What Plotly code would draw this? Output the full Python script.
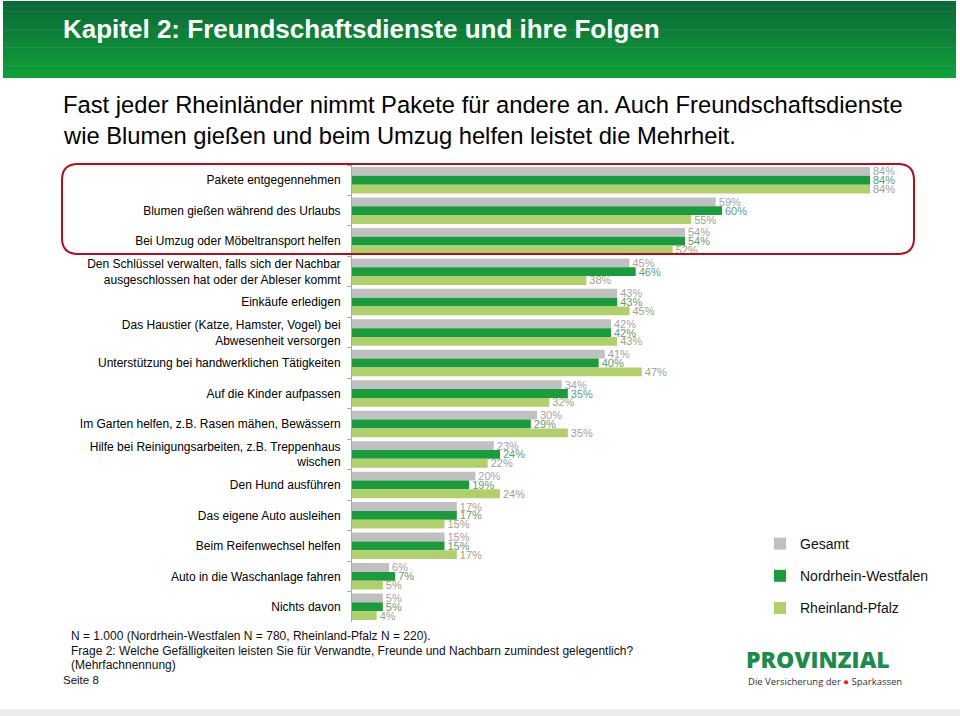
import plotly.graph_objects as go

categories = [
    "Pakete entgegennehmen",
    "Blumen gießen während des Urlaubs",
    "Bei Umzug oder Möbeltransport helfen",
    "Den Schlüssel verwalten, falls sich der Nachbar<br>ausgeschlossen hat oder der Ableser kommt",
    "Einkäufe erledigen",
    "Das Haustier (Katze, Hamster, Vogel) bei<br>Abwesenheit versorgen",
    "Unterstützung bei handwerklichen Tätigkeiten",
    "Auf die Kinder aufpassen",
    "Im Garten helfen, z.B. Rasen mähen, Bewässern",
    "Hilfe bei Reinigungsarbeiten, z.B. Treppenhaus<br>wischen",
    "Den Hund ausführen",
    "Das eigene Auto ausleihen",
    "Beim Reifenwechsel helfen",
    "Auto in die Waschanlage fahren",
    "Nichts davon",
]
gesamt = [84, 59, 54, 45, 43, 42, 41, 34, 30, 23, 20, 17, 15, 6, 5]
nrw = [84, 60, 54, 46, 43, 42, 40, 35, 29, 24, 19, 17, 15, 7, 5]
rlp = [84, 55, 52, 38, 45, 43, 47, 32, 35, 22, 24, 15, 17, 5, 4]
series_names = ["Gesamt", "Nordrhein-Westfalen", "Rheinland-Pfalz"]

W, H = 960, 716
L, R, T, B = 352, 907, 165, 622  # plot area in pixels
XMAX = 90


def px(x):
    return (x - L) / (R - L)


def py(y):
    return (B - y) / (B - T)


bar_colors = ["#c0c0c2", "#1a9c3c", "#b1cf6c"]
text_colors = ["#a3a3aa", "#5f9c7c", "#a0a38a"]
FONT = "Liberation Sans, Arial, sans-serif"

fig = go.Figure()
for i, (name, vals) in enumerate(zip(series_names, [gesamt, nrw, rlp])):
    fig.add_trace(go.Bar(
        y=categories, x=vals, name=name, orientation="h",
        marker=dict(color=bar_colors[i], line=dict(width=0)),
        text=[f"{v}%" for v in vals], textposition="outside",
        textfont=dict(family=FONT, size=11, color=text_colors[i]),
        constraintext="none", cliponaxis=False,
        legendgroup=name, hoverinfo="skip",
    ))

shapes = []
# header gradient band
n = 30
top_c = (11, 104, 56)
bot_c = (16, 160, 56)
y_top, y_bot = 1, 78
for k in range(n):
    t = k / (n - 1)
    c = tuple(int(round(top_c[j] + (bot_c[j] - top_c[j]) * t)) for j in range(3))
    ya = y_top + (y_bot - y_top) * k / n
    yb = y_top + (y_bot - y_top) * (k + 1) / n + 0.6
    shapes.append(dict(type="rect", xref="paper", yref="paper",
                       x0=px(3), x1=px(956), y0=py(ya), y1=py(min(yb, y_bot)),
                       fillcolor="rgb(%d,%d,%d)" % c, line=dict(width=0), layer="below"))
# bottom strip
shapes.append(dict(type="rect", xref="paper", yref="paper", x0=px(0), x1=px(960),
                   y0=py(709), y1=py(716), fillcolor="#ececec", line=dict(width=0), layer="below"))

# red rounded rectangle
x0, x1, y0, y1, r = 62, 914, 164, 254, 16
pts = [
    ("M", (x0 + r, y0)), ("L", (x1 - r, y0)), ("Q", (x1, y0), (x1, y0 + r)),
    ("L", (x1, y1 - r)), ("Q", (x1, y1), (x1 - r, y1)), ("L", (x0 + r, y1)),
    ("Q", (x0, y1), (x0, y1 - r)), ("L", (x0, y0 + r)), ("Q", (x0, y0), (x0 + r, y0)),
]
path = ""
for item in pts:
    cmd = item[0]
    coords = " ".join(f"{px(p[0]):.5f},{py(p[1]):.5f}" for p in item[1:])
    path += f"{cmd}{coords} "
path += "Z"
shapes.append(dict(type="path", xref="paper", yref="paper", path=path,
                   line=dict(color="#b0101e", width=2)))


def note(text, x, y, size, color="#111", family=FONT, weight=None):
    f = dict(family=family, size=size, color=color)
    if weight:
        f["weight"] = weight
    return dict(text=text, x=px(x), y=py(y), xref="paper", yref="paper",
                xanchor="left", yanchor="middle", showarrow=False, font=f)


annotations = [
    note("<b>Kapitel 2: Freundschaftsdienste und ihre Folgen</b>", 61, 29, 26, "white"),
    note("Fast jeder Rheinländer nimmt Pakete für andere an. Auch Freundschaftsdienste", 61, 104, 23.75, "black"),
    note("wie Blumen gießen und beim Umzug helfen leistet die Mehrheit.", 61, 135, 23.75, "black"),
    note("N = 1.000 (Nordrhein-Westfalen N = 780, Rheinland-Pfalz N = 220).", 69, 636, 12),
    note("Frage 2: Welche Gefälligkeiten leisten Sie für Verwandte, Freunde und Nachbarn zumindest gelegentlich?", 69, 651, 12),
    note("(Mehrfachnennung)", 69, 665, 12),
    note("Seite 8", 61, 680, 11.5),
    note("PROVINZIAL", 744, 659, 23, "#1e8a4c", "Open Sans, sans-serif", 800),
    note("Die Versicherung der <span style='color:#e2231a'>●</span> Sparkassen", 746, 681, 9.5, "#333",
         "Open Sans, sans-serif"),
]

fig.update_layout(
    width=W, height=H,
    margin=dict(l=L, r=W - R, t=T, b=H - B, pad=0),
    paper_bgcolor="white", plot_bgcolor="white",
    barmode="group", bargap=0.13, bargroupgap=0,
    showlegend=True, hovermode=False,
    legend=dict(x=px(760), y=py(528), xanchor="left", yanchor="top",
                font=dict(family=FONT, size=14, color="#111"),
                traceorder="grouped", tracegroupgap=11, bgcolor="rgba(0,0,0,0)",
                itemclick=False),
    xaxis=dict(range=[0, XMAX], visible=False, fixedrange=True),
    yaxis=dict(autorange="reversed", showline=True, linecolor="#a8a8a8", linewidth=1,
               ticks="outside", tickson="boundaries", ticklen=4, tickcolor="#a8a8a8",
               ticklabelstandoff=8,
               tickfont=dict(family=FONT, size=12, color="#000"), showgrid=False,
               fixedrange=True),
    shapes=shapes, annotations=annotations,
)

fig.write_html("out.html", config={"displayModeBar": False},
               post_script="document.body.style.margin='0';")
